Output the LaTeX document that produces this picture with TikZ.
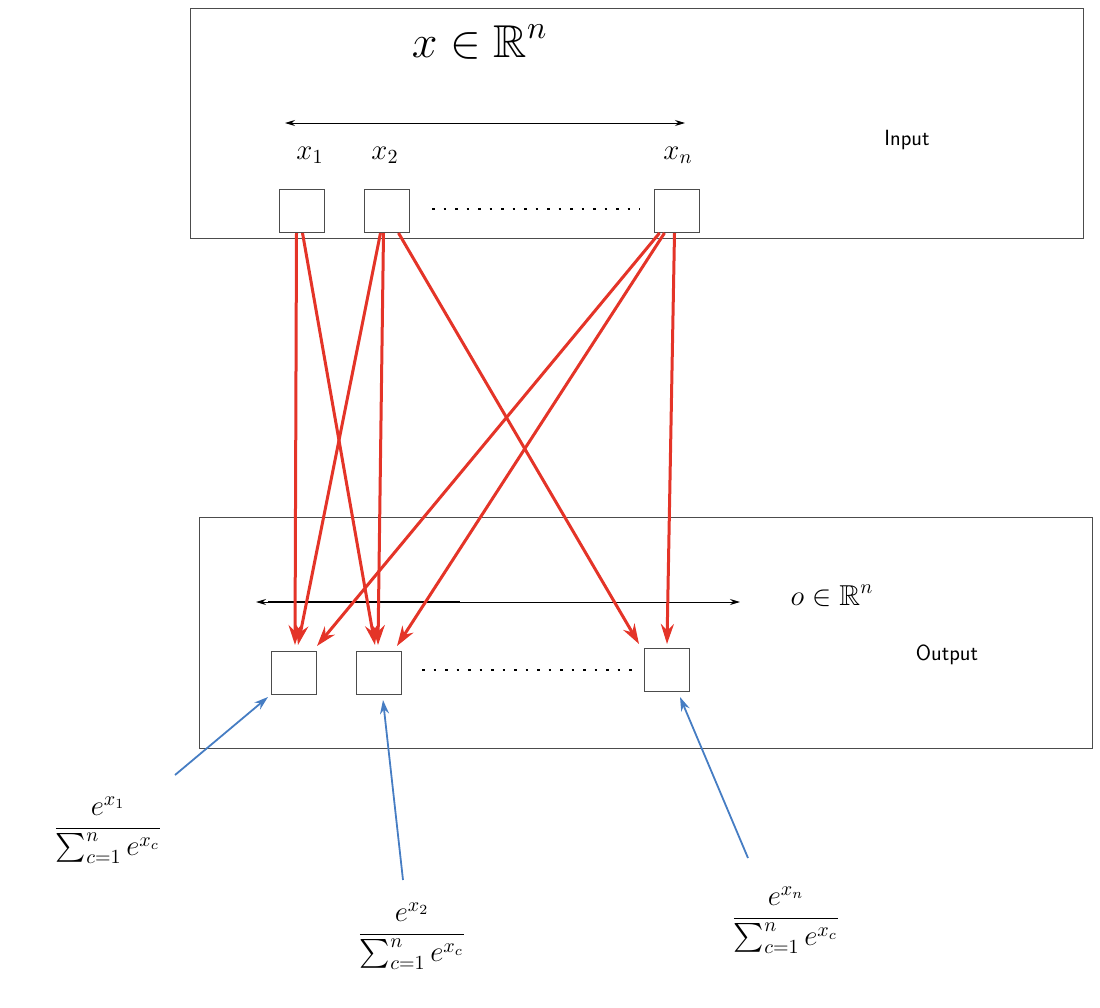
\documentclass[tikz,border=0pt]{standalone}
\usepackage{graphicx}
\usepackage{amsmath,amssymb}
\usetikzlibrary{arrows.meta,calc}
\definecolor{redarr}{RGB}{228,52,40}
\definecolor{bluearr}{RGB}{70,125,195}
\newcommand{\mymath}[2]{\scalebox{#1}{\Large$\displaystyle #2$}}
\tikzset{
 panel/.style={draw=black!70,line width=1pt},
 unit/.style={draw=black!70,line width=1pt,minimum width=45pt,minimum height=43pt,inner sep=0pt},
 redline/.style={draw=redarr,line width=3pt,-{Stealth[length=20pt,width=13pt]}},
 blueline/.style={draw=bluearr,line width=1.8pt,-{Stealth[length=14pt,width=9pt]}},
 span/.style={line width=1pt,{Stealth[length=10pt,width=6pt]}-{Stealth[length=10pt,width=6pt]}},
 dotsline/.style={line width=2.5pt,dash pattern=on 2.5pt off 9pt},
 lbl/.style={font=\fontsize{22}{26}\selectfont\sffamily},
 mth/.style={inner sep=0pt},
}
\begin{document}
\begin{tikzpicture}[x=1pt,y=-1pt]
\useasboundingbox (0,0) rectangle (1100,1007);
\draw[panel] (190,8) rectangle (1083,238);
\draw[panel] (199,517) rectangle (1092,748);
\node[unit] (i1) at (301.5,211) {};
\node[unit] (i2) at (386.5,211) {};
\node[unit] (in) at (676.5,211) {};
\node[unit] (o1) at (294,673) {};
\node[unit] (o2) at (379,673) {};
\node[unit] (on) at (667,670) {};
\draw[dotsline] (432,209) -- (640,209);
\draw[dotsline] (422,670) -- (632,670);
\node[mth] (X) at (480,42) {\mymath{3.2}{x\in\mathbb{R}^n}};
\node[mth] (l1) at (310,155) {\mymath{2}{x_1}};
\node[mth] (l2) at (385,155) {\mymath{2}{x_2}};
\node[mth] (ln) at (678,155) {\mymath{2}{x_n}};
\coordinate (sa) at (285,123); \coordinate (sb) at (685,123);
\draw[span] (sa) -- (sb);
\node[lbl] (inp) at (907,140) {Input};
\coordinate (ta) at (256,602); \coordinate (tb) at (740,602);
\draw[span] (ta) -- (tb);
\coordinate (bk1) at (268,602); \coordinate (bk2) at (460,602);
\draw[line width=2pt] (bk1) -- (bk2);
\node[mth] (ol) at (832,596) {\mymath{2}{o\in\mathbb{R}^n}};
\node[lbl] (outp) at (947,655) {Output};
% red
\draw[redline] ($(i1.south)+(-5,0)$) -- ($(o1.north)+(1,-6)$);
\draw[redline] ($(i1.south)+(1,0)$) -- ($(o2.north)+(-4,-6)$);
\draw[redline] ($(i2.south)+(-6,0)$) -- ($(o1.north)+(4,-6)$);
\draw[redline] ($(i2.south)+(-3,0)$) -- ($(o2.north)+(-1,-6)$);
\draw[redline] ($(i2.south)+(12,0)$) -- ($(on.north)+(-28,-4)$);
\draw[redline] ($(in.south)+(-17,0)$) -- ($(o1.north)+(23,-5)$);
\draw[redline] ($(in.south)+(-12,0)$) -- ($(o2.north)+(18,-5)$);
\draw[redline] ($(in.south)+(-2,0)$) -- ($(on.north)+(0,-4)$);
% fractions
\node[mth] (f1) at (108,830) {\mymath{2}{\frac{e^{x_1}}{\sum_{c=1}^{n}e^{x_c}}}};
\node[mth] (f2) at (412,936) {\mymath{2}{\frac{e^{x_2}}{\sum_{c=1}^{n}e^{x_c}}}};
\node[mth] (fn) at (786,920) {\mymath{2}{\frac{e^{x_n}}{\sum_{c=1}^{n}e^{x_c}}}};
\coordinate (b1) at (175,775); \coordinate (b2) at (403,880); \coordinate (b3) at (748,858);
\draw[blueline] (b1) -- ($(o1.south west)+(-3,2)$);
\draw[blueline] (b2) -- ($(o2.south)+(4,5)$);
\draw[blueline] (b3) -- ($(on.south)+(13,5)$);
\end{tikzpicture}
\end{document}
